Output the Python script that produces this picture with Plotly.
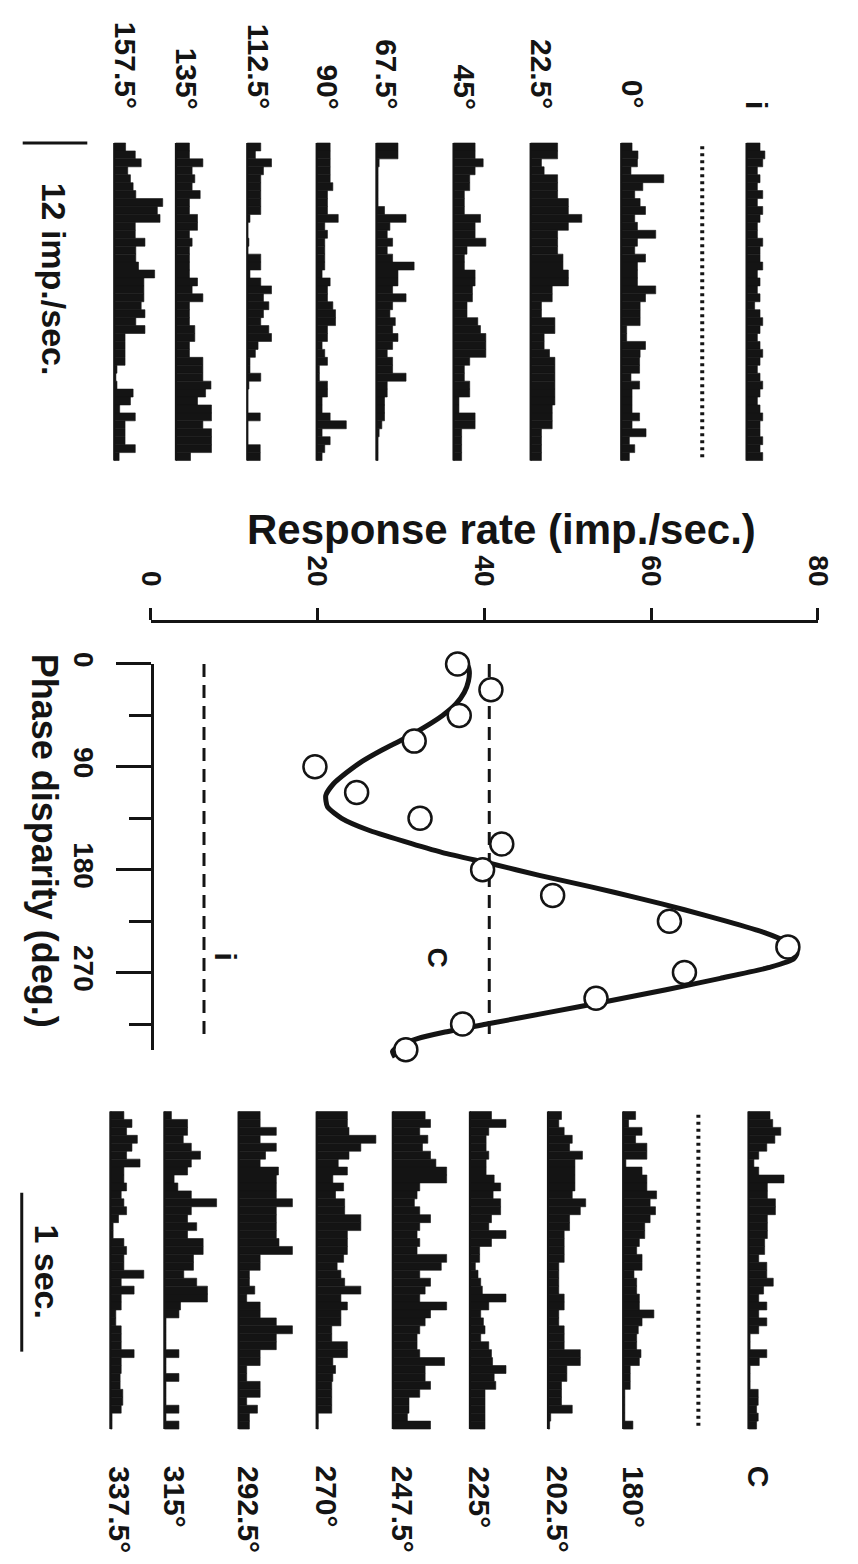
import plotly.graph_objects as go

# ------------------------------------------------------------------ data
# Tuning curve: response rate vs interocular phase disparity
PHASES = [0, 22.5, 45, 67.5, 90, 112.5, 135, 157.5, 180, 202.5, 225, 247.5, 270, 292.5, 315, 337.5]
RATES = [36.8, 40.8, 37.0, 31.6, 19.7, 24.7, 32.3, 42.1, 39.8, 48.2, 62.2, 76.4, 64.0, 53.4, 37.4, 30.6]

FIT_PHASE = [-3, 0, 6, 15, 25, 35, 45, 55, 65, 75, 85, 95, 105, 115, 125, 135, 145, 155, 165, 175,
             185, 195, 205, 215, 225, 235, 242, 248, 253, 258, 265, 275, 285, 295, 305, 315, 322, 328,
             334, 339, 344]
FIT_RATE = [37.0, 37.9, 38.2, 38.1, 37.6, 36.6, 35.0, 32.9, 30.5, 27.8, 25.4, 23.5, 21.9, 21.0, 21.2,
            22.9, 26.0, 30.3, 35.0, 41.0, 46.6, 52.8, 58.6, 64.0, 69.0, 73.6, 75.9, 77.1, 77.5, 77.1,
            74.4, 68.3, 61.8, 54.8, 47.6, 40.3, 35.3, 31.9, 29.8, 29.0, 29.3]

MEAN_C = 40.6   # binocular (C) mean rate
MEAN_I = 6.4    # monocular (i) mean rate
DASH_END = 330  # phase where the mean lines stop

RATE_TICKS = [0, 20, 40, 60, 80]
PHASE_TICKS = [0, 90, 180, 270]
PHASE_MINOR = [45, 135, 225, 315]

# PSTHs (imp./sec., 40 bins of 50 ms over 2 s)
PSTH_I = [2.5, 3.4, 3.0, 2.0, 2.5, 2.0, 3.0, 2.0, 3.0, 2.5, 2.0, 2.0, 3.0, 2.5, 2.5, 3.0, 2.0, 2.5, 2.0, 2.5,
          1.5, 2.5, 3.0, 2.5, 2.0, 2.5, 3.0, 2.5, 2.0, 2.5, 3.0, 2.5, 2.0, 2.5, 3.0, 2.5, 2.5, 3.0, 2.5, 3.0]
PSTH_0 = [2.0, 3.1, 3.0, 1.8, 7.9, 4.0, 2.5, 3.5, 4.5, 2.5, 3.0, 6.4, 3.0, 2.5, 4.5, 3.0, 3.0, 3.0, 6.4, 4.5,
          3.5, 3.5, 3.5, 1.0, 1.0, 4.5, 3.5, 3.4, 3.4, 1.8, 3.4, 2.0, 2.0, 2.0, 3.4, 2.0, 4.6, 1.5, 2.5, 1.5]
PSTH_22_5 = [5.0, 5.0, 2.0, 2.5, 5.0, 5.0, 5.0, 7.0, 7.0, 9.5, 7.0, 5.0, 5.0, 5.0, 6.0, 6.0, 7.0, 7.0, 4.0, 4.0,
             2.0, 2.0, 4.5, 4.5, 2.5, 2.5, 3.5, 4.5, 4.5, 4.5, 4.5, 4.5, 4.5, 4.0, 4.0, 4.0, 2.0, 2.0, 2.0, 2.0]
PSTH_45 = [4.0, 4.0, 5.5, 4.0, 3.0, 3.0, 2.0, 2.0, 2.0, 5.0, 4.0, 4.0, 6.0, 2.5, 2.0, 2.0, 4.0, 4.0, 3.5, 3.5,
           2.5, 2.5, 4.5, 5.0, 6.0, 6.0, 6.0, 3.0, 2.0, 2.0, 3.0, 3.0, 1.0, 1.0, 4.0, 4.0, 1.5, 1.5, 1.5, 1.5]
PSTH_67_5 = [4.0, 4.0, 0.5, 0.3, 0.3, 0.3, 0.3, 0.3, 1.5, 5.5, 2.5, 2.0, 3.0, 2.0, 3.0, 7.0, 4.0, 4.0, 3.0, 5.5,
             3.0, 2.5, 3.5, 3.0, 4.0, 3.0, 2.0, 3.0, 3.0, 5.5, 2.0, 2.0, 1.5, 1.5, 1.5, 1.0, 0.5, 0.3, 0.3, 0.3]
PSTH_90 = [2.5, 2.5, 2.5, 2.5, 2.5, 3.0, 2.0, 2.0, 2.0, 4.0, 1.5, 2.0, 1.5, 1.5, 1.5, 1.5, 1.0, 2.5, 2.0, 2.0,
           3.0, 3.5, 3.5, 2.0, 2.0, 1.0, 1.5, 2.0, 0.5, 0.5, 2.0, 2.0, 1.0, 1.0, 2.5, 5.5, 1.0, 2.5, 1.5, 1.0]
PSTH_112_5 = [2.5, 1.5, 4.5, 3.0, 2.5, 2.5, 2.5, 2.5, 2.5, 0.5, 0.0, 0.0, 0.3, 0.0, 2.5, 2.5, 0.5, 2.5, 4.5, 3.0,
              4.0, 3.0, 2.5, 4.0, 4.5, 2.0, 1.5, 0.5, 0.5, 2.5, 0.3, 0.0, 0.0, 0.0, 2.4, 0.0, 0.0, 0.0, 2.4, 2.4]
PSTH_135 = [2.5, 2.5, 5.0, 3.0, 3.5, 3.0, 4.5, 2.5, 2.5, 4.0, 4.0, 2.5, 3.0, 2.5, 2.5, 2.5, 2.5, 4.0, 3.0, 5.0,
            2.5, 2.5, 2.5, 3.5, 3.5, 2.5, 2.5, 5.0, 5.0, 5.0, 6.5, 5.5, 4.0, 6.6, 6.6, 5.0, 6.6, 6.6, 6.6, 2.7]
PSTH_157_5 = [2.1, 3.9, 5.0, 2.5, 3.0, 3.5, 4.0, 9.0, 8.0, 8.5, 3.9, 3.9, 5.7, 4.0, 4.0, 4.5, 7.5, 5.5, 5.5, 5.5,
              5.0, 5.7, 4.0, 5.7, 2.0, 2.0, 2.0, 2.0, 0.5, 0.3, 0.5, 3.5, 3.0, 1.0, 3.9, 2.0, 2.0, 2.0, 3.9, 0.9]

PSTH_C = [4.0, 4.5, 6.0, 4.9, 3.4, 1.9, 1.0, 1.9, 6.6, 3.5, 3.5, 5.0, 5.0, 3.5, 3.5, 3.5, 3.0, 3.0, 1.9, 3.4,
          3.4, 4.6, 2.8, 1.9, 3.4, 1.9, 3.4, 1.9, 0.3, 0.3, 3.4, 2.0, 0.3, 0.3, 0.3, 1.8, 1.8, 1.5, 1.8, 1.5]
PSTH_180 = [2.3, 1.0, 3.5, 2.3, 4.4, 4.4, 0.5, 3.5, 4.4, 4.4, 6.2, 5.0, 6.0, 5.0, 4.0, 4.0, 3.0, 2.5, 3.5, 3.5,
            2.0, 2.5, 2.5, 3.0, 3.0, 5.7, 3.5, 2.8, 2.5, 2.5, 3.3, 3.0, 1.3, 1.3, 1.3, 0.3, 0.3, 0.3, 0.3, 1.8]
PSTH_202_5 = [2.5, 2.0, 3.0, 4.5, 4.0, 6.4, 5.0, 5.0, 5.0, 5.0, 4.5, 7.0, 6.0, 4.0, 4.0, 3.0, 3.0, 3.0, 3.0, 2.0,
              2.0, 2.0, 2.0, 3.0, 3.0, 2.0, 2.0, 3.0, 3.0, 3.0, 6.0, 6.0, 3.5, 3.5, 2.5, 2.5, 2.5, 4.5, 0.5, 0.3]
PSTH_225 = [4.0, 6.7, 3.5, 3.0, 3.0, 3.5, 3.0, 3.0, 4.5, 5.7, 4.3, 5.7, 5.7, 4.0, 3.5, 6.7, 4.0, 1.8, 1.8, 1.0,
            1.5, 2.0, 2.3, 6.7, 3.5, 2.0, 2.5, 2.8, 2.0, 3.5, 4.0, 4.2, 6.7, 4.5, 4.8, 2.8, 2.8, 2.8, 2.8, 2.8]
PSTH_247_5 = [6.0, 7.0, 5.0, 6.5, 5.5, 7.0, 8.0, 10.0, 10.0, 5.0, 4.5, 4.0, 5.0, 7.0, 5.0, 4.5, 5.0, 4.5, 10.0, 9.0,
              5.0, 7.0, 6.0, 5.0, 10.0, 7.0, 6.0, 5.0, 4.5, 4.5, 5.0, 9.6, 6.0, 6.0, 7.0, 5.0, 3.0, 3.0, 2.7, 7.0]
PSTH_270 = [5.7, 5.7, 6.0, 11.0, 8.2, 6.0, 4.0, 5.7, 3.0, 5.0, 3.5, 5.2, 5.2, 8.2, 8.2, 5.7, 5.7, 5.7, 5.0, 3.8,
            4.5, 5.2, 8.2, 4.5, 5.7, 4.5, 4.5, 2.8, 2.8, 5.7, 5.7, 3.0, 3.5, 3.0, 2.8, 2.8, 2.8, 2.8, 0.3, 0.3]
PSTH_292_5 = [4.0, 4.0, 7.0, 4.0, 7.0, 5.0, 4.0, 7.4, 7.0, 7.0, 7.0, 10.0, 7.0, 7.0, 7.0, 7.0, 7.5, 10.0, 4.0, 4.0,
              2.0, 2.0, 3.0, 1.5, 4.0, 4.0, 7.0, 10.0, 7.0, 7.0, 4.0, 4.0, 1.5, 1.5, 4.0, 4.0, 1.5, 3.5, 2.0, 2.0]
PSTH_315 = [1.3, 4.3, 4.3, 3.5, 5.0, 6.7, 5.0, 4.3, 1.8, 2.5, 5.0, 9.7, 5.0, 4.3, 6.0, 4.3, 7.2, 7.2, 5.4, 5.4,
            3.6, 6.0, 8.0, 8.0, 3.0, 2.7, 0.3, 0.3, 0.3, 0.3, 2.7, 0.3, 0.3, 2.7, 0.3, 0.3, 0.3, 2.7, 0.3, 2.7]
PSTH_337_5 = [2.5, 4.0, 3.0, 5.0, 4.0, 3.0, 5.5, 2.5, 2.5, 3.0, 2.0, 2.5, 3.0, 1.5, 0.5, 0.5, 2.5, 3.0, 2.5, 2.5,
              6.2, 2.0, 4.4, 2.0, 2.0, 1.0, 1.0, 2.0, 2.0, 2.0, 4.4, 2.0, 2.0, 1.8, 1.8, 2.3, 2.3, 2.0, 0.3, 0.3]

LEFT_LABELS = ["157.5°", "135°", "112.5°", "90°", "67.5°", "45°", "22.5°", "0°", "i"]
LEFT_DATA = [PSTH_157_5, PSTH_135, PSTH_112_5, PSTH_90, PSTH_67_5, PSTH_45, PSTH_22_5, PSTH_0, PSTH_I]
RIGHT_LABELS = ["337.5°", "315°", "292.5°", "270°", "247.5°", "225°", "202.5°", "180°", "C"]
RIGHT_DATA = [PSTH_337_5, PSTH_315, PSTH_292_5, PSTH_270, PSTH_247_5, PSTH_225, PSTH_202_5, PSTH_180, PSTH_C]

SWEEP = 2.0         # s
N_BINS = 40
SCALE_RATE = 12     # imp./sec. scale bar
SCALE_TIME = 1      # sec. scale bar

# ------------------------------------------------------------------ layout constants (pixels)
W, H = 858, 1564
INK = "#141414"
FONT = "Liberation Sans, Arial, Helvetica, sans-serif"
PX_PER_RATE = 67 / 12          # histogram bar scale (px per imp./sec.)
PX_PER_SEC = 160               # histogram time scale
LEFT_COLS = [103, 167, 241, 313, 375, 455, 535, 629, 759]
LEFT_DOTTED = 713
RIGHT_COLS = [99, 155, 232, 313, 392, 472, 553, 631, 761]
RIGHT_DOTTED = 709
LEFT_TOP, RIGHT_TOP = 132, 1108
PAD = 12                      # px of extra room around histogram blocks

RATE_X0, RATE_X80 = 140.7, 833.0
RATE_AXIS_Y = 614
PH0_Y, PX_PER_DEG = 657.0, 1.152
PH_AXIS_X = 142


def xp(px):
    return px / W


def yp(py):
    return 1 - py / H


def bin_centers():
    w = SWEEP / N_BINS
    return [w * (k + 0.5) for k in range(N_BINS)]


fig = go.Figure()

# ------------------------------------------------------------------ PSTH blocks
def add_block(cols, data, dotted_px, xa, ya):
    yc = bin_centers()
    for col, vals in zip(cols, data):
        off = col / PX_PER_RATE
        fig.add_trace(go.Bar(y=yc, x=vals, base=off, width=SWEEP / N_BINS, orientation="h",
                             marker=dict(color=INK, line=dict(width=0.6, color=INK)),
                             xaxis=xa, yaxis=ya, showlegend=False, hoverinfo="skip"))
        fig.add_trace(go.Scatter(x=[off, off], y=[0, SWEEP], mode="lines",
                                 line=dict(color=INK, width=2.2), xaxis=xa, yaxis=ya,
                                 showlegend=False, hoverinfo="skip"))
    doff = dotted_px / PX_PER_RATE
    fig.add_trace(go.Scatter(x=[doff, doff], y=[0.02, SWEEP - 0.02], mode="lines",
                             line=dict(color=INK, width=4, dash="3px,4px"), xaxis=xa, yaxis=ya,
                             showlegend=False, hoverinfo="skip"))


add_block(LEFT_COLS, LEFT_DATA, LEFT_DOTTED, "x2", "y2")
add_block(RIGHT_COLS, RIGHT_DATA, RIGHT_DOTTED, "x3", "y3")

# scale bars
sb_x = 8 / PX_PER_RATE
fig.add_trace(go.Scatter(x=[sb_x, sb_x + SCALE_RATE], y=[0, 0], mode="lines",
                         line=dict(color=INK, width=3), xaxis="x2", yaxis="y2",
                         showlegend=False, hoverinfo="skip"))
t0 = (1190 - RIGHT_TOP) / PX_PER_SEC
fig.add_trace(go.Scatter(x=[7 / PX_PER_RATE] * 2, y=[t0, t0 + SCALE_TIME], mode="lines",
                         line=dict(color=INK, width=3), xaxis="x3", yaxis="y3",
                         showlegend=False, hoverinfo="skip"))

# ------------------------------------------------------------------ tuning curve
fig.add_trace(go.Scatter(x=FIT_RATE, y=FIT_PHASE, mode="lines",
                         line=dict(color=INK, width=5, shape="spline", smoothing=0.6),
                         xaxis="x", yaxis="y", showlegend=False, hoverinfo="skip"))
for m in (MEAN_C, MEAN_I):
    fig.add_trace(go.Scatter(x=[m, m], y=[0, DASH_END], mode="lines",
                             line=dict(color=INK, width=3, dash="13px,8px"),
                             xaxis="x", yaxis="y5", showlegend=False, hoverinfo="skip"))
fig.add_trace(go.Scatter(x=RATES, y=PHASES, mode="markers", cliponaxis=False,
                         marker=dict(size=23, color="white", line=dict(color=INK, width=2.5)),
                         xaxis="x", yaxis="y5", showlegend=False, hoverinfo="skip"))

# ------------------------------------------------------------------ axes
tickfont = dict(family=FONT, size=28, color=INK, weight="bold")
blank = dict(visible=False, showgrid=False, zeroline=False)

lt = LEFT_TOP - PAD
lb = LEFT_TOP + SWEEP * PX_PER_SEC + PAD
rt = RIGHT_TOP - PAD
rb = RIGHT_TOP + SWEEP * PX_PER_SEC + PAD
tpad = PAD / PX_PER_SEC

ph_top = PH0_Y - 15 * PX_PER_DEG
ph_bot = PH0_Y + 355 * PX_PER_DEG
ph5_bot = PH0_Y + 337.5 * PX_PER_DEG

fig.update_layout(
    width=W, height=H, margin=dict(l=0, r=0, t=0, b=0),
    paper_bgcolor="white", plot_bgcolor="rgba(0,0,0,0)",
    barmode="overlay", showlegend=False,
    xaxis=dict(domain=[xp(RATE_X0), xp(RATE_X80)], range=[0, 80], anchor="free",
               position=yp(RATE_AXIS_Y), side="top", showline=True, linewidth=3, linecolor=INK,
               ticks="outside", ticklen=12, tickwidth=3, tickcolor=INK, tickvals=RATE_TICKS,
               tickangle=90, tickfont=tickfont, ticklabelstandoff=12,
               showgrid=False, zeroline=False),
    yaxis=dict(domain=[yp(ph_bot), yp(ph_top)], range=[355, -15], anchor="x", **blank),
    yaxis5=dict(domain=[yp(ph5_bot), yp(PH0_Y)], range=[337.5, 0], anchor="free",
                position=xp(PH_AXIS_X), side="left", showline=True, linewidth=3, linecolor=INK,
                ticks="outside", ticklen=35, tickwidth=3, tickcolor=INK, tickvals=PHASE_TICKS,
                minor=dict(tickvals=PHASE_MINOR, ticks="outside", ticklen=22, tickwidth=3,
                           tickcolor=INK),
                tickangle=90, tickfont=tickfont, ticklabelstandoff=8,
                showgrid=False, zeroline=False),
    xaxis2=dict(domain=[0, 1], range=[0, W / PX_PER_RATE], anchor="y2", **blank),
    yaxis2=dict(domain=[yp(lb), yp(lt)], range=[SWEEP + tpad, -tpad], anchor="x2", **blank),
    xaxis3=dict(domain=[0, 1], range=[0, W / PX_PER_RATE], anchor="y3", **blank),
    yaxis3=dict(domain=[yp(rb), yp(rt)], range=[SWEEP + tpad, -tpad], anchor="x3", **blank),
)

# ------------------------------------------------------------------ text
def note(text, x, y, size=30, xanchor="center", yanchor="middle", angle=90):
    fig.add_annotation(text=text, x=xp(x), y=yp(y), xref="paper", yref="paper",
                       showarrow=False, textangle=angle, xanchor=xanchor, yanchor=yanchor,
                       font=dict(family=FONT, size=size, color=INK, weight="bold"))


for lab, col in zip(LEFT_LABELS, LEFT_COLS):
    note(lab, col + 11, 100, yanchor="bottom")
for lab, col in zip(RIGHT_LABELS, RIGHT_COLS):
    note(lab, col + 10, 1463, yanchor="top")

note("12 imp./sec.", 40, 170, size=34, yanchor="top")
note("1 sec.", 33, 1270, size=34)
note("Response rate (imp./sec.)", 505, 522, size=42, angle=0)
note("Phase disparity (deg.)", 30, 835, size=36)
note("C", 438, 953, size=28)
note("i", 218, 952, size=30)

fig.write_html("out.html")
